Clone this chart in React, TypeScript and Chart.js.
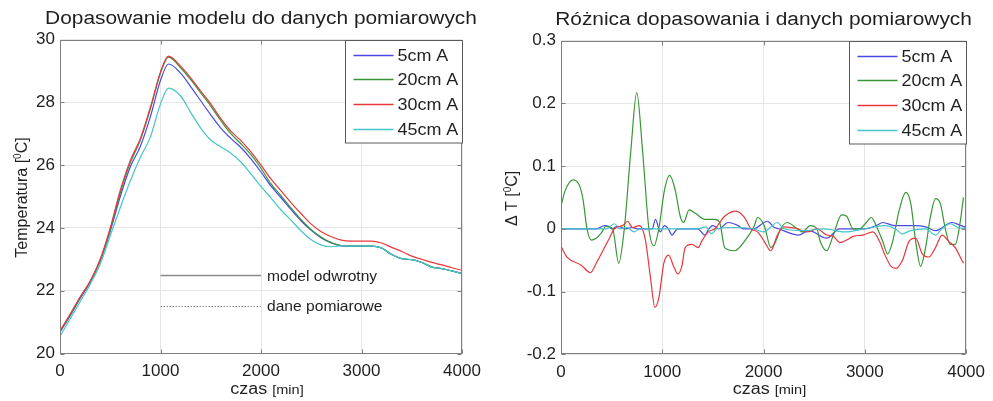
import React, { useEffect, useRef } from 'react';
import { Chart, registerables } from 'chart.js';
Chart.register(...registerables);

const FONT = '"Liberation Sans", Arial, Helvetica, sans-serif';
const TEXT = '#1f1f1f';
const FRAME = '#7f7f7f';
const GRID = '#e6e6e6';

const seriesLabels = ['5cm A', '20cm A', '30cm A', '45cm A'];
const seriesColors = ['#4848e8', '#379637', '#e8383c', '#45c5c8'];

// ---- left panel: temperature (model fit) ----
const timeT = [0, 100, 200, 300, 400, 500, 600, 700, 800, 900, 1000, 1080, 1200, 1300, 1400, 1500, 1600, 1700, 1800, 1900, 2000, 2100, 2200, 2300, 2400, 2500, 2600, 2700, 2800, 2900, 3000, 3100, 3200, 3300, 3400, 3500, 3600, 3700, 3800, 3900, 4000];
const temp5cm = [20.68, 21.2, 21.75, 22.27, 22.95, 23.9, 25.0, 25.95, 26.6, 27.55, 28.7, 29.22, 28.93, 28.5, 28.05, 27.6, 27.18, 26.85, 26.56, 26.2, 25.78, 25.33, 24.96, 24.58, 24.22, 23.92, 23.68, 23.52, 23.43, 23.42, 23.42, 23.42, 23.36, 23.15, 23.02, 22.99, 22.9, 22.75, 22.7, 22.63, 22.55];
const temp20cm = [20.7, 21.22, 21.78, 22.3, 22.97, 23.95, 25.12, 26.08, 26.8, 27.8, 28.93, 29.44, 29.1, 28.72, 28.3, 27.88, 27.42, 27.0, 26.68, 26.33, 25.9, 25.4, 25.02, 24.63, 24.26, 23.94, 23.7, 23.53, 23.44, 23.42, 23.42, 23.42, 23.36, 23.15, 23.02, 22.99, 22.9, 22.75, 22.7, 22.63, 22.55];
const temp30cm = [20.72, 21.25, 21.8, 22.3, 23.0, 24.0, 25.2, 26.15, 26.85, 27.85, 28.97, 29.47, 29.15, 28.78, 28.36, 27.95, 27.48, 27.08, 26.78, 26.42, 26.0, 25.55, 25.18, 24.8, 24.45, 24.12, 23.88, 23.72, 23.61, 23.58, 23.58, 23.58, 23.52, 23.38, 23.25, 23.1, 23.0, 22.9, 22.82, 22.73, 22.65];
const temp45cm = [20.55, 21.1, 21.65, 22.2, 22.85, 23.75, 24.65, 25.5, 26.25, 26.9, 27.95, 28.45, 28.2, 27.68, 27.18, 26.8, 26.58, 26.38, 26.1, 25.72, 25.32, 24.95, 24.57, 24.24, 23.9, 23.62, 23.45, 23.4, 23.43, 23.42, 23.42, 23.42, 23.36, 23.15, 23.02, 22.99, 22.9, 22.75, 22.7, 22.63, 22.55];

// ---- right panel: difference fit - data ----
const diffTime5cm = [0, 350, 430, 470, 500, 560, 640, 700, 760, 830, 900, 933, 980, 1020, 1060, 1096, 1150, 1350, 1421, 1460, 1500, 1560, 1650, 1750, 1800, 1900, 2039, 2100, 2150, 2348, 2450, 2624, 2750, 3000, 3112, 3177, 3300, 3500, 3600, 3700, 3860, 3950, 4000];
const diff5cm = [0, 0, 0.005, 0.004, 0.0, 0.004, 0.0, 0.002, 0.0, 0.0, 0.0, 0.015, -0.005, 0.005, 0.0, -0.01, 0.0, 0.0, -0.01, 0.0, 0.005, 0.0, 0.01, 0.005, 0.0, 0.0, 0.012, 0.003, 0.0, -0.01, -0.003, -0.015, 0.0, 0.0, 0.005, 0.01, 0.005, 0.005, 0.003, -0.003, 0.01, 0.005, 0.002];

const diffTime20cm = [0, 39, 120, 185, 218, 257, 300, 348, 397, 445, 510, 570, 625, 690, 748, 805, 868, 917, 966, 1020, 1073, 1130, 1177, 1210, 1265, 1324, 1421, 1519, 1567, 1616, 1714, 1811, 1909, 1941, 2007, 2072, 2120, 2169, 2234, 2332, 2380, 2462, 2527, 2559, 2624, 2689, 2771, 2820, 2884, 2950, 3015, 3063, 3112, 3177, 3226, 3275, 3340, 3405, 3454, 3502, 3551, 3600, 3649, 3698, 3746, 3795, 3844, 3893, 3941, 3974];
const diff20cm = [0.036, 0.06, 0.078, 0.068, 0.046, 0.0, -0.018, -0.015, -0.007, 0.004, 0.0, -0.055, 0.0, 0.125, 0.217, 0.125, 0.0, -0.027, 0.0, 0.06, 0.085, 0.06, 0.02, 0.01, 0.03, 0.025, 0.015, 0.015, 0.01, -0.03, -0.035, -0.02, 0.005, 0.018, 0.005, -0.03, -0.02, 0.0, 0.01, 0.0, -0.005, 0.005, 0.0, -0.02, -0.035, -0.01, 0.022, 0.02, 0.0, 0.0, 0.01, 0.018, 0.005, -0.02, -0.04, -0.02, 0.03, 0.058, 0.04, -0.02, -0.06, -0.03, 0.02, 0.048, 0.04, 0.0, -0.025, -0.025, 0.01, 0.05];

const diffTime30cm = [0, 60, 200, 290, 348, 413, 478, 527, 608, 657, 706, 771, 803, 836, 885, 927, 966, 1015, 1063, 1112, 1154, 1193, 1226, 1291, 1356, 1389, 1454, 1519, 1616, 1730, 1811, 1876, 1941, 2007, 2072, 2137, 2202, 2332, 2429, 2527, 2624, 2689, 2754, 2820, 2884, 2982, 3080, 3145, 3194, 3259, 3307, 3372, 3437, 3502, 3567, 3632, 3698, 3763, 3828, 3893, 3958, 3975];
const diff30cm = [-0.028, -0.045, -0.058, -0.07, -0.055, -0.035, -0.015, 0.0, 0.005, 0.012, 0.002, 0.005, 0.0, -0.02, -0.08, -0.125, -0.11, -0.055, -0.042, -0.06, -0.072, -0.06, -0.03, -0.025, -0.03, -0.02, -0.005, 0.0, 0.02, 0.028, 0.018, 0.0, -0.005, -0.02, -0.035, -0.01, 0.003, 0.0, -0.005, 0.0, -0.01, -0.012, -0.022, -0.018, -0.012, -0.01, -0.005, -0.02, -0.04, -0.06, -0.063, -0.05, -0.02, -0.015, -0.04, -0.045, -0.03, -0.01, -0.02, -0.03, -0.05, -0.055];

const diffTime45cm = [0, 450, 527, 580, 650, 722, 780, 900, 1100, 1350, 1430, 1486, 1540, 1700, 1900, 2000, 2072, 2137, 2200, 2400, 2600, 2800, 3000, 3200, 3300, 3372, 3450, 3600, 3698, 3760, 3844, 3920, 4000];
const diff45cm = [0, 0, 0.008, 0.0, 0.002, -0.005, 0.0, 0.0, 0.0, 0.0, 0.003, -0.008, 0.0, 0.002, 0.0, -0.005, 0.003, 0.01, 0.0, -0.003, 0.0, -0.005, 0.0, 0.005, 0.0, -0.008, -0.003, 0.0, -0.01, 0.0, 0.008, 0.002, 0.0];

const xTicksLabel = ['czas ', '[min]'];

type Part = { t: string; size: number; rise?: number };

function drawParts(ctx: CanvasRenderingContext2D, parts: Part[], x: number, y: number, sx: number, rotate: boolean) {
  const widths = parts.map((p) => {
    ctx.font = `${p.size}px ${FONT}`;
    return ctx.measureText(p.t).width;
  });
  const total = widths.reduce((a, b) => a + b, 0);
  ctx.save();
  ctx.translate(x, y);
  if (rotate) ctx.rotate(-Math.PI / 2);
  ctx.scale(sx, 1);
  ctx.fillStyle = TEXT;
  ctx.textAlign = 'left';
  ctx.textBaseline = 'alphabetic';
  let cur = -total / 2;
  parts.forEach((p, i) => {
    ctx.font = `${p.size}px ${FONT}`;
    ctx.fillText(p.t, cur, -(p.rise || 0));
    cur += widths[i];
  });
  ctx.restore();
}

type Spec = {
  title: string;
  yLabel: Part[];
  yLabelX: number;
  series: { x: number[]; y: number[] }[];
  yMin: number;
  yMax: number;
  yStep: number;
  fmt: (v: number) => string;
  top: number;
  right: number;
  yAxisW: number;
  xAxisH: number;
  width: number;
  annotate?: boolean;
};

function makeChart(canvas: HTMLCanvasElement, spec: Spec) {
  const plugin = {
    id: 'decor',
    afterDraw(chart: any) {
      const ctx: CanvasRenderingContext2D = chart.ctx;
      const a = chart.chartArea;
      const xs = chart.scales.x;
      const ys = chart.scales.y;
      ctx.save();
      // frame
      const L = Math.round(a.left) + 0.5, R = Math.round(a.right) - 0.5;
      const T = Math.round(a.top) + 0.5, B = Math.round(a.bottom) - 0.5;
      ctx.strokeStyle = FRAME;
      ctx.lineWidth = 1;
      ctx.strokeRect(L, T, R - L, B - T);
      // inward tick marks
      ctx.beginPath();
      xs.ticks.forEach((t: any) => {
        const px = Math.round(xs.getPixelForValue(t.value)) + 0.5;
        ctx.moveTo(px, B); ctx.lineTo(px, B - 4);
        ctx.moveTo(px, T); ctx.lineTo(px, T + 4);
      });
      ys.ticks.forEach((t: any) => {
        const py = Math.round(ys.getPixelForValue(t.value)) + 0.5;
        ctx.moveTo(L, py); ctx.lineTo(L + 4, py);
        ctx.moveTo(R, py); ctx.lineTo(R - 4, py);
      });
      ctx.stroke();

      // annotation (line styles key)
      if (spec.annotate) {
        const x1 = xs.getPixelForValue(1000), x2 = xs.getPixelForValue(2000);
        const yA = Math.round(ys.getPixelForValue(22.5)) + 0.5, yB = Math.round(ys.getPixelForValue(21.5)) + 0.5;
        ctx.strokeStyle = '#8a8a8a';
        ctx.lineWidth = 1.3;
        ctx.beginPath(); ctx.moveTo(x1, yA); ctx.lineTo(x2, yA); ctx.stroke();
        ctx.setLineDash([1.5, 1.5]);
        ctx.lineWidth = 1;
        ctx.strokeStyle = '#8f8f8f';
        ctx.beginPath(); ctx.moveTo(x1, yB); ctx.lineTo(x2, yB); ctx.stroke();
        ctx.setLineDash([]);
        ctx.fillStyle = TEXT;
        ctx.textAlign = 'left';
        ctx.textBaseline = 'alphabetic';
        ctx.font = `15px ${FONT}`;
        ctx.save(); ctx.translate(x2 + 6, yA + 5); ctx.scale(1.04, 1); ctx.fillText('model odwrotny', 0, 0); ctx.restore();
        ctx.save(); ctx.translate(x2 + 6, yB + 4); ctx.scale(1.04, 1); ctx.fillText('dane pomiarowe', 0, 0); ctx.restore();
      }

      // legend
      const bw = 117, bh = 102.5;
      const bx = Math.round(a.right - bw) + 0.5, by = T;
      ctx.fillStyle = '#ffffff';
      ctx.fillRect(bx, by, bw, bh);
      ctx.strokeStyle = '#5a5a5a';
      ctx.lineWidth = 1;
      ctx.strokeRect(bx, by, bw, bh);
      const rows = [14.5, 39.3, 64, 88.5];
      seriesLabels.forEach((lab, i) => {
        const ry = Math.floor(by + rows[i]) + 0.5;
        ctx.strokeStyle = seriesColors[i];
        ctx.lineWidth = 1.5;
        ctx.beginPath(); ctx.moveTo(bx + 8, ry); ctx.lineTo(bx + 48, ry); ctx.stroke();
        ctx.fillStyle = TEXT;
        ctx.font = `16px ${FONT}`;
        ctx.textAlign = 'left';
        ctx.textBaseline = 'alphabetic';
        ctx.save(); ctx.translate(bx + 52, ry + 5.8); ctx.scale(1.12, 1); ctx.fillText(lab, 0, 0); ctx.restore();
      });

      // title
      const cx = (a.left + a.right) / 2;
      drawParts(ctx, [{ t: spec.title, size: 18 }], cx, a.top - 15.5, 1.16, false);
      // x label
      drawParts(ctx, [{ t: xTicksLabel[0], size: 16 }, { t: xTicksLabel[1], size: 13 }], cx + 6, a.bottom + 40, 1.12, false);
      // y label
      drawParts(ctx, spec.yLabel, spec.yLabelX, (a.top + a.bottom) / 2 + 1, 1, true);
      ctx.restore();
    },
  };

  const order = [4, 3, 2, 1];
  return new Chart(canvas, {
    type: 'line',
    data: {
      datasets: spec.series.map((s, i) => ({
        label: seriesLabels[i],
        data: s.x.map((x, j) => ({ x, y: s.y[j] })),
        borderColor: seriesColors[i],
        backgroundColor: seriesColors[i],
        borderWidth: 1.2,
        pointRadius: 0,
        fill: false,
        cubicInterpolationMode: 'monotone' as const,
        order: order[i],
      })),
    },
    options: {
      animation: false,
      responsive: false,
      layout: { padding: { top: spec.top, right: spec.right, left: 0, bottom: 0 } },
      plugins: { legend: { display: false }, title: { display: false }, tooltip: { enabled: false } },
      scales: {
        x: {
          type: 'linear',
          min: 0,
          max: 4000,
          ticks: {
            stepSize: 1000,
            autoSkip: false,
            maxRotation: 0,
            padding: 8,
            color: TEXT,
            font: { family: FONT, size: 17 },
            callback: (v: any) => String(v),
          },
          grid: { color: GRID, drawTicks: false, lineWidth: 1 },
          border: { display: false },
          afterFit: (s: any) => { s.height = spec.xAxisH; },
        },
        y: {
          type: 'linear',
          min: spec.yMin,
          max: spec.yMax,
          ticks: {
            stepSize: spec.yStep,
            autoSkip: false,
            padding: 5,
            color: TEXT,
            font: { family: FONT, size: 17 },
            callback: (v: any) => spec.fmt(Number(v)),
          },
          grid: { color: GRID, drawTicks: false, lineWidth: 1 },
          border: { display: false },
          afterFit: (s: any) => { s.width = spec.yAxisW; },
        },
      },
    } as any,
    plugins: [plugin],
  });
}

export default function App() {
  const leftRef = useRef<HTMLCanvasElement>(null);
  const rightRef = useRef<HTMLCanvasElement>(null);

  useEffect(() => {
    const c1 = makeChart(leftRef.current!, {
      title: 'Dopasowanie modelu do danych pomiarowych',
      yLabel: [{ t: 'Temperatura [', size: 16 }, { t: '0', size: 10, rise: 6 }, { t: 'C]', size: 16 }],
      yLabelX: 27,
      series: [
        { x: timeT, y: temp5cm },
        { x: timeT, y: temp20cm },
        { x: timeT, y: temp30cm },
        { x: timeT, y: temp45cm },
      ],
      yMin: 20,
      yMax: 30,
      yStep: 2,
      fmt: (v) => String(Math.round(v)),
      top: 39.5,
      right: 28,
      yAxisW: 60,
      xAxisH: 47.5,
      width: 490,
      annotate: true,
    });
    const c2 = makeChart(rightRef.current!, {
      title: 'Różnica dopasowania i danych pomiarowych',
      yLabel: [{ t: 'Δ T [', size: 16 }, { t: '0', size: 10, rise: 6 }, { t: 'C]', size: 16 }],
      yLabelX: 24,
      series: [
        { x: diffTime5cm, y: diff5cm },
        { x: diffTime20cm, y: diff20cm },
        { x: diffTime30cm, y: diff30cm },
        { x: diffTime45cm, y: diff45cm },
      ],
      yMin: -0.2,
      yMax: 0.3,
      yStep: 0.1,
      fmt: (v) => {
        const r = Math.round(v * 10) / 10;
        return r === 0 ? '0' : String(r);
      },
      top: 40.5,
      right: 22,
      yAxisW: 68,
      xAxisH: 46.7,
      width: 500,
    });
    return () => {
      c1.destroy();
      c2.destroy();
    };
  }, []);

  return (
    <div style={{ position: 'absolute', left: 0, top: 0, width: 993, height: 401, background: '#ffffff', overflow: 'hidden' }}>
      <canvas ref={leftRef} width={490} height={401} style={{ position: 'absolute', left: 0, top: 0, width: 490, height: 401 }} />
      <canvas ref={rightRef} width={500} height={401} style={{ position: 'absolute', left: 493, top: 0, width: 500, height: 401 }} />
    </div>
  );
}
